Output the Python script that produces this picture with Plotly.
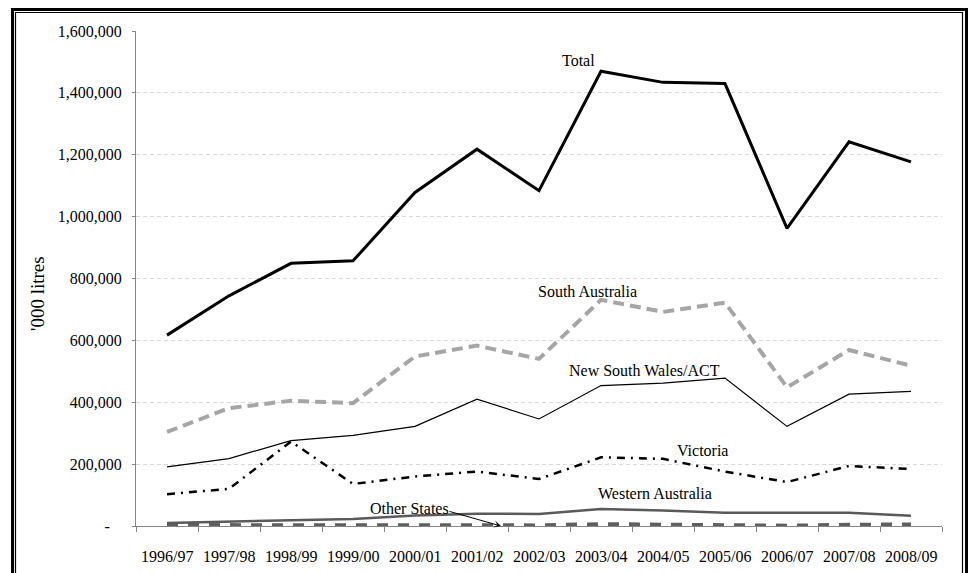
import plotly.graph_objects as go

years = ["1996/97", "1997/98", "1998/99", "1999/00", "2000/01", "2001/02", "2002/03",
         "2003/04", "2004/05", "2005/06", "2006/07", "2007/08", "2008/09"]

total = [617000, 744000, 849000, 857000, 1078000, 1218000, 1084000,
         1470000, 1434000, 1430000, 962000, 1242000, 1177000]
south_australia = [304000, 381000, 405000, 397000, 548000, 583000, 540000,
                   731000, 692000, 722000, 448000, 569000, 518000]
nsw_act = [191000, 218000, 276000, 293000, 322000, 410000, 346000,
           454000, 462000, 478000, 322000, 426000, 435000]
victoria = [103000, 120000, 273000, 136000, 160000, 176000, 152000,
            222000, 217000, 176000, 142000, 194000, 184000]
western_australia = [10000, 14000, 18000, 23000, 34000, 40000, 39000,
                     55000, 50000, 43000, 43000, 43000, 33000]
other_states = [3000, 3000, 2000, 2000, 2000, 2000, 2000,
                6000, 5000, 5000, 1000, 4000, 5000]

y_ticks = [0, 200000, 400000, 600000, 800000, 1000000, 1200000, 1400000, 1600000]
y_ticktext = ["-\u00a0\u00a0\u00a0"] + [f"{v:,}" for v in y_ticks[1:]]

W, H = 968, 573
L, R, T, B = 136, 942, 31, 526

def px(x):
    return (x - L) / (R - L)

def py(y):
    return (B - y) / (B - T)

FONT = "Liberation Serif, Times New Roman, serif"
FS = 16

fig = go.Figure()

fig.add_trace(go.Scatter(x=years, y=other_states, mode="lines", name="Other States",
                         line=dict(color="#5f5f5f", width=4, dash="11px,10px")))
fig.add_trace(go.Scatter(x=years, y=western_australia, mode="lines", name="Western Australia",
                         line=dict(color="#5a5a5a", width=2.5)))
fig.add_trace(go.Scatter(x=years, y=victoria, mode="lines", name="Victoria",
                         line=dict(color="black", width=2.5, dash="8px,6px,2px,6px")))
fig.add_trace(go.Scatter(x=years, y=nsw_act, mode="lines", name="New South Wales/ACT",
                         line=dict(color="black", width=1.2)))
fig.add_trace(go.Scatter(x=years, y=south_australia, mode="lines", name="South Australia",
                         line=dict(color="#a6a6a6", width=4, dash="11px,6px")))
fig.add_trace(go.Scatter(x=years, y=total, mode="lines", name="Total",
                         line=dict(color="black", width=3)))

labels = [
    ("Total", 578, 61),
    ("South Australia", 587, 291),
    ("New South Wales/ACT", 644.5, 370),
    ("Victoria", 702, 450),
    ("Western Australia", 654.5, 493),
    ("Other States", 409.5, 508),
]
annotations = []
for text, x, y in labels:
    annotations.append(dict(text=text, x=px(x), y=py(y), xref="paper", yref="paper",
                            showarrow=False, xanchor="center", yanchor="middle",
                            font=dict(family=FONT, size=FS, color="black")))
# x-axis category labels (placed as text under each category)
for yr in years:
    annotations.append(dict(text=yr, x=yr, y=py(556), xref="x", yref="paper",
                            showarrow=False, xanchor="center", yanchor="middle",
                            font=dict(family=FONT, size=FS, color="black")))
# arrow from Other States label to its line
annotations.append(dict(text="", x=px(501), y=py(526), xref="paper", yref="paper",
                        ax=-53, ay=-15, axref="pixel", ayref="pixel",
                        showarrow=True, arrowhead=3, arrowsize=1.2, arrowwidth=1,
                        arrowcolor="black"))
# y-axis title
annotations.append(dict(text="'000 litres", x=px(37), y=py(294), xref="paper", yref="paper",
                        showarrow=False, textangle=-90, xanchor="center", yanchor="middle",
                        font=dict(family=FONT, size=19, color="black")))

# double frame
shapes = [
    dict(type="rect", xref="paper", yref="paper",
         x0=px(12.5), x1=px(966.5), y0=py(590), y1=py(9.5),
         line=dict(color="black", width=3), fillcolor="rgba(0,0,0,0)", layer="above"),
    dict(type="rect", xref="paper", yref="paper",
         x0=px(15.5), x1=px(962.5), y0=py(590), y1=py(12.5),
         line=dict(color="black", width=1.2), fillcolor="rgba(0,0,0,0)", layer="above"),
]

fig.update_layout(
    width=W, height=H,
    margin=dict(l=L, r=W - R, t=T, b=H - B, autoexpand=False),
    paper_bgcolor="white", plot_bgcolor="white",
    showlegend=False,
    font=dict(family=FONT, size=FS, color="black"),
    annotations=annotations,
    shapes=shapes,
    xaxis=dict(
        type="category", tickson="boundaries", ticks="outside", ticklen=5,
        tickcolor="#868686", showline=True, linecolor="#868686", linewidth=1,
        showgrid=False, showticklabels=False, automargin=False,
        range=[-0.5, len(years) - 0.5],
    ),
    yaxis=dict(
        range=[0, 1600000], tickvals=y_ticks, ticktext=y_ticktext,
        ticks="outside", ticklen=3, tickcolor="#868686",
        showline=True, linecolor="#868686", linewidth=1,
        showgrid=True, gridcolor="#d9d9d9", gridwidth=1, griddash="4px,3px",
        zeroline=False, ticklabelstandoff=7, automargin=False,
        tickfont=dict(family=FONT, size=FS, color="black"),
    ),
)

fig.write_html("out.html")
